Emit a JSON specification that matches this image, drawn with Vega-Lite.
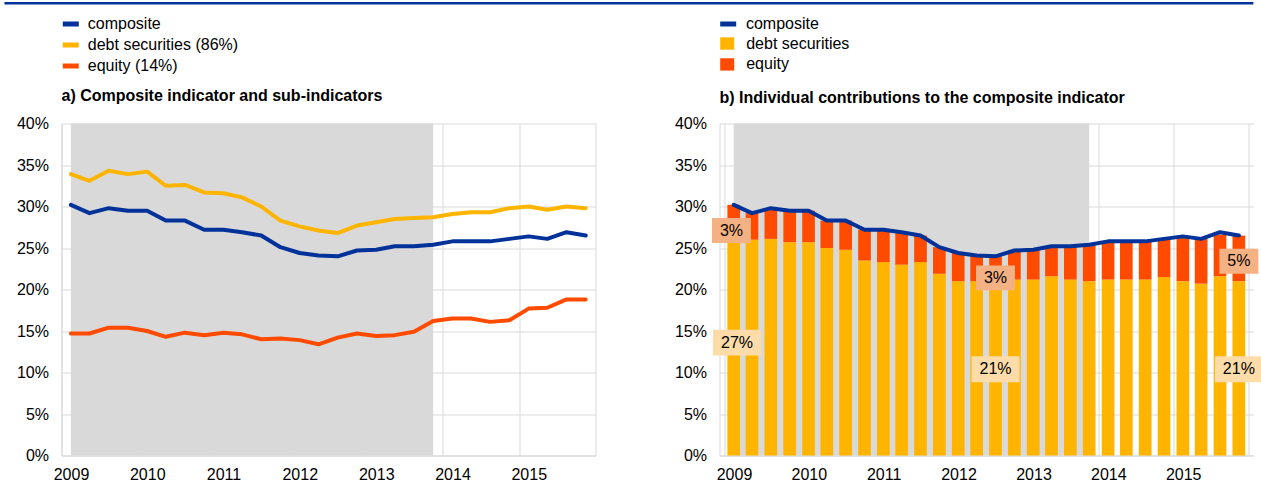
{
  "$schema": "https://vega.github.io/schema/vega-lite/v6.json",
  "background": "white",
  "padding": {"left": 2.5, "top": 1.5, "right": 0, "bottom": 0},
  "spacing": 124,
  "bounds": "flush",
  "config": {
    "font": "Liberation Sans",
    "view": {"stroke": null},
    "axis": {"labelFont": "Liberation Sans", "labelFontSize": 16, "labelColor": "#000000", "ticks": false, "domainColor": "#d9d9d9", "gridColor": "#d9d9d9", "gridWidth": 1},
    "legend": {"labelFont": "Liberation Sans", "labelFontSize": 16, "labelColor": "#000000", "labelLimit": 400, "padding": 0},
    "title": {"font": "Liberation Sans", "fontSize": 16, "fontWeight": "bold", "color": "#000000", "anchor": "start", "frame": "group"}
  },
  "datasets": {
    "shade": [{"start": "2009-02-15", "end": "2013-11-15"}],
    "sub": [
      {"date": "2009-02-15", "composite": 0.302, "debt": 0.339, "equity": 0.147},
      {"date": "2009-05-15", "composite": 0.292, "debt": 0.331, "equity": 0.147},
      {"date": "2009-08-15", "composite": 0.298, "debt": 0.343, "equity": 0.154},
      {"date": "2009-11-15", "composite": 0.295, "debt": 0.339, "equity": 0.154},
      {"date": "2010-02-15", "composite": 0.295, "debt": 0.342, "equity": 0.150},
      {"date": "2010-05-15", "composite": 0.283, "debt": 0.325, "equity": 0.143},
      {"date": "2010-08-15", "composite": 0.283, "debt": 0.326, "equity": 0.148},
      {"date": "2010-11-15", "composite": 0.272, "debt": 0.317, "equity": 0.145},
      {"date": "2011-02-15", "composite": 0.272, "debt": 0.316, "equity": 0.148},
      {"date": "2011-05-15", "composite": 0.269, "debt": 0.311, "equity": 0.146},
      {"date": "2011-08-15", "composite": 0.265, "debt": 0.300, "equity": 0.140},
      {"date": "2011-11-15", "composite": 0.251, "debt": 0.283, "equity": 0.141},
      {"date": "2012-02-15", "composite": 0.244, "debt": 0.276, "equity": 0.139},
      {"date": "2012-05-15", "composite": 0.241, "debt": 0.271, "equity": 0.134},
      {"date": "2012-08-15", "composite": 0.240, "debt": 0.268, "equity": 0.142},
      {"date": "2012-11-15", "composite": 0.247, "debt": 0.277, "equity": 0.147},
      {"date": "2013-02-15", "composite": 0.248, "debt": 0.281, "equity": 0.144},
      {"date": "2013-05-15", "composite": 0.252, "debt": 0.285, "equity": 0.145},
      {"date": "2013-08-15", "composite": 0.252, "debt": 0.286, "equity": 0.149},
      {"date": "2013-11-15", "composite": 0.254, "debt": 0.287, "equity": 0.162},
      {"date": "2014-02-15", "composite": 0.258, "debt": 0.291, "equity": 0.165},
      {"date": "2014-05-15", "composite": 0.258, "debt": 0.293, "equity": 0.165},
      {"date": "2014-08-15", "composite": 0.258, "debt": 0.293, "equity": 0.161},
      {"date": "2014-11-15", "composite": 0.261, "debt": 0.298, "equity": 0.163},
      {"date": "2015-02-15", "composite": 0.264, "debt": 0.300, "equity": 0.177},
      {"date": "2015-05-15", "composite": 0.261, "debt": 0.296, "equity": 0.178},
      {"date": "2015-08-15", "composite": 0.269, "debt": 0.300, "equity": 0.188},
      {"date": "2015-11-15", "composite": 0.265, "debt": 0.298, "equity": 0.188}
    ],
    "contrib": [
      {"date": "2009-02-15", "debt": 0.269, "equity": 0.033},
      {"date": "2009-05-15", "debt": 0.260, "equity": 0.032},
      {"date": "2009-08-15", "debt": 0.261, "equity": 0.037},
      {"date": "2009-11-15", "debt": 0.257, "equity": 0.038},
      {"date": "2010-02-15", "debt": 0.257, "equity": 0.038},
      {"date": "2010-05-15", "debt": 0.250, "equity": 0.033},
      {"date": "2010-08-15", "debt": 0.248, "equity": 0.035},
      {"date": "2010-11-15", "debt": 0.235, "equity": 0.037},
      {"date": "2011-02-15", "debt": 0.233, "equity": 0.039},
      {"date": "2011-05-15", "debt": 0.230, "equity": 0.039},
      {"date": "2011-08-15", "debt": 0.233, "equity": 0.032},
      {"date": "2011-11-15", "debt": 0.219, "equity": 0.032},
      {"date": "2012-02-15", "debt": 0.210, "equity": 0.034},
      {"date": "2012-05-15", "debt": 0.210, "equity": 0.031},
      {"date": "2012-08-15", "debt": 0.210, "equity": 0.030},
      {"date": "2012-11-15", "debt": 0.212, "equity": 0.035},
      {"date": "2013-02-15", "debt": 0.212, "equity": 0.036},
      {"date": "2013-05-15", "debt": 0.216, "equity": 0.036},
      {"date": "2013-08-15", "debt": 0.212, "equity": 0.040},
      {"date": "2013-11-15", "debt": 0.210, "equity": 0.044},
      {"date": "2014-02-15", "debt": 0.212, "equity": 0.046},
      {"date": "2014-05-15", "debt": 0.212, "equity": 0.046},
      {"date": "2014-08-15", "debt": 0.212, "equity": 0.046},
      {"date": "2014-11-15", "debt": 0.215, "equity": 0.046},
      {"date": "2015-02-15", "debt": 0.210, "equity": 0.054},
      {"date": "2015-05-15", "debt": 0.207, "equity": 0.054},
      {"date": "2015-08-15", "debt": 0.216, "equity": 0.050},
      {"date": "2015-11-15", "debt": 0.210, "equity": 0.055}
    ],
    "labels": [
      {"date": "2009-02-04", "label": "3%", "pos": 0.271, "series": "equity"},
      {"date": "2009-03-03", "label": "27%", "pos": 0.136, "series": "debt"},
      {"date": "2012-08-15", "label": "3%", "pos": 0.214, "series": "equity"},
      {"date": "2012-08-15", "label": "21%", "pos": 0.104, "series": "debt"},
      {"date": "2015-11-15", "label": "5%", "pos": 0.234, "series": "equity"},
      {"date": "2015-11-15", "label": "21%", "pos": 0.104, "series": "debt"}
    ]
  },
  "resolve": {"scale": {"color": "independent", "stroke": "independent"}, "legend": {"color": "independent", "stroke": "independent"}},
  "hconcat": [
    {
      "width": 534,
      "height": 332,
      "title": {"text": "a) Composite indicator and sub-indicators", "offset": -102.4},
      "layer": [
        {
          "data": {"name": "shade"},
          "mark": {"type": "rect", "color": "#d9d9d9"},
          "encoding": {
            "x": {"field": "start", "type": "temporal",
              "scale": {"type": "utc", "nice": false, "domain": [{"year": 2009, "month": 1, "date": 1, "utc": true}, {"year": 2016, "month": 1, "date": 1, "utc": true}]},
              "axis": {"title": null, "values": [{"year": 2009, "utc": true}, {"year": 2010, "utc": true}, {"year": 2011, "utc": true}, {"year": 2012, "utc": true}, {"year": 2013, "utc": true}, {"year": 2014, "utc": true}, {"year": 2015, "utc": true}, {"year": 2016, "utc": true}],
                "labelExpr": "utcyear(datum.value) > 2015 ? '' : '' + utcyear(datum.value)", "labelOffset": 9.5, "labelPadding": 11, "labelFlush": false, "labelOverlap": false, "grid": true}},
            "x2": {"field": "end"},
            "y": {"datum": 0, "type": "quantitative",
              "scale": {"domain": [0, 0.4], "nice": false},
              "axis": {"title": null, "values": [0, 0.05, 0.1, 0.15, 0.2, 0.25, 0.3, 0.35, 0.4], "format": ".0%", "labelPadding": 13, "grid": true}},
            "y2": {"datum": 0.4}
          }
        },
        {
          "data": {"name": "sub"},
          "transform": [{"fold": ["composite", "debt", "equity"], "as": ["series", "value"]}],
          "mark": {"type": "line", "strokeWidth": 4, "strokeJoin": "round", "strokeCap": "round"},
          "encoding": {
            "x": {"field": "date", "type": "temporal", "title": null},
            "y": {"field": "value", "type": "quantitative", "title": null},
            "color": {"field": "series", "type": "nominal",
              "scale": {"domain": ["composite", "debt", "equity"], "range": ["#003299", "#ffb400", "#ff4b00"]},
              "legend": {"orient": "none", "legendX": -1.2, "legendY": -110, "title": null, "symbolType": "stroke", "symbolSize": 256, "symbolStrokeWidth": 5, "labelOffset": 6.5, "rowPadding": -0.7,
                "labelExpr": "datum.value == 'debt' ? 'debt securities (86%)' : datum.value == 'equity' ? 'equity (14%)' : 'composite'"}}
          }
        },
        {
          "data": {"name": "shade"},
          "mark": {"type": "rule", "color": "#003299", "strokeWidth": 2.5, "clip": false},
          "encoding": {
            "x": {"datum": {"year": 2008, "month": 4, "date": 3, "utc": true}, "type": "temporal", "title": null},
            "x2": {"datum": {"year": 2024, "month": 8, "date": 15, "utc": true}},
            "y": {"datum": 0.5449, "type": "quantitative", "title": null}
          }
        }
      ]
    },
    {
      "width": 534,
      "height": 332,
      "title": {"text": "b) Individual contributions to the composite indicator", "offset": -92.4},
      "layer": [
        {
          "data": {"name": "shade"},
          "mark": {"type": "rect", "color": "#d9d9d9"},
          "encoding": {
            "x": {"field": "start", "type": "temporal",
              "scale": {"type": "utc", "nice": false, "domain": [{"year": 2009, "month": 1, "date": 1, "utc": true}, {"year": 2016, "month": 1, "date": 1, "utc": true}]},
              "axis": {"title": null, "values": [{"year": 2009, "utc": true}, {"year": 2010, "utc": true}, {"year": 2011, "utc": true}, {"year": 2012, "utc": true}, {"year": 2013, "utc": true}, {"year": 2014, "utc": true}, {"year": 2015, "utc": true}, {"year": 2016, "utc": true}],
                "labelExpr": "utcyear(datum.value) > 2015 ? '' : '' + utcyear(datum.value)", "labelOffset": 9.5, "labelPadding": 11, "labelFlush": false, "labelOverlap": false, "grid": true}},
            "x2": {"field": "end"},
            "y": {"datum": 0, "type": "quantitative",
              "scale": {"domain": [0, 0.4], "nice": false},
              "axis": {"title": null, "values": [0, 0.05, 0.1, 0.15, 0.2, 0.25, 0.3, 0.35, 0.4], "format": ".0%", "labelPadding": 13, "grid": true}},
            "y2": {"datum": 0.4}
          }
        },
        {
          "data": {"name": "contrib"},
          "transform": [{"fold": ["debt", "equity"], "as": ["series", "value"]}],
          "mark": {"type": "bar", "width": 12.7},
          "encoding": {
            "x": {"field": "date", "type": "temporal", "title": null},
            "y": {"field": "value", "type": "quantitative", "stack": "zero", "title": null},
            "color": {"field": "series", "type": "nominal",
              "scale": {"domain": ["debt", "equity"], "range": ["#ffb400", "#ff4b00"]},
              "legend": {"orient": "none", "legendX": -0.3, "legendY": -88, "title": null, "symbolType": "M-1,-0.88H1V0.88H-1Z", "symbolSize": 196, "symbolStrokeWidth": 0, "labelOffset": 11, "rowPadding": 4.9,
                "labelExpr": "datum.value == 'debt' ? 'debt securities' : datum.value"}},
            "order": {"field": "series", "sort": "ascending"}
          }
        },
        {
          "data": {"name": "sub"},
          "mark": {"type": "line", "strokeWidth": 4, "strokeJoin": "round", "strokeCap": "round"},
          "encoding": {
            "x": {"field": "date", "type": "temporal", "title": null},
            "y": {"field": "composite", "type": "quantitative", "title": null},
            "stroke": {"datum": "composite", "type": "nominal",
              "scale": {"domain": ["composite"], "range": ["#003299"]},
              "legend": {"orient": "none", "legendX": -1.8, "legendY": -110, "title": null, "symbolType": "stroke", "symbolSize": 256, "symbolStrokeWidth": 5, "labelOffset": 7.2}}
          }
        },
        {
          "data": {"name": "labels"},
          "transform": [{"filter": "datum.series == 'equity'"}],
          "mark": {"type": "point", "filled": true, "opacity": 1, "fill": "#f4b183", "strokeWidth": 0, "shape": "M-1,-0.64H1V0.64H-1Z", "size": 1521},
          "encoding": {
            "x": {"field": "date", "type": "temporal", "title": null},
            "y": {"field": "pos", "type": "quantitative", "title": null}
          }
        },
        {
          "data": {"name": "labels"},
          "transform": [{"filter": "datum.series == 'debt'"}],
          "mark": {"type": "point", "filled": true, "opacity": 1, "fill": "#fddcaa", "strokeWidth": 0, "shape": "M-1,-0.54H1V0.54H-1Z", "size": 2304},
          "encoding": {
            "x": {"field": "date", "type": "temporal", "title": null},
            "y": {"field": "pos", "type": "quantitative", "title": null}
          }
        },
        {
          "data": {"name": "labels"},
          "mark": {"type": "text", "fontSize": 16, "font": "Liberation Sans", "color": "#000000", "align": "center", "baseline": "middle"},
          "encoding": {
            "x": {"field": "date", "type": "temporal", "title": null},
            "y": {"field": "pos", "type": "quantitative", "title": null},
            "text": {"field": "label"}
          }
        }
      ]
    }
  ]
}
